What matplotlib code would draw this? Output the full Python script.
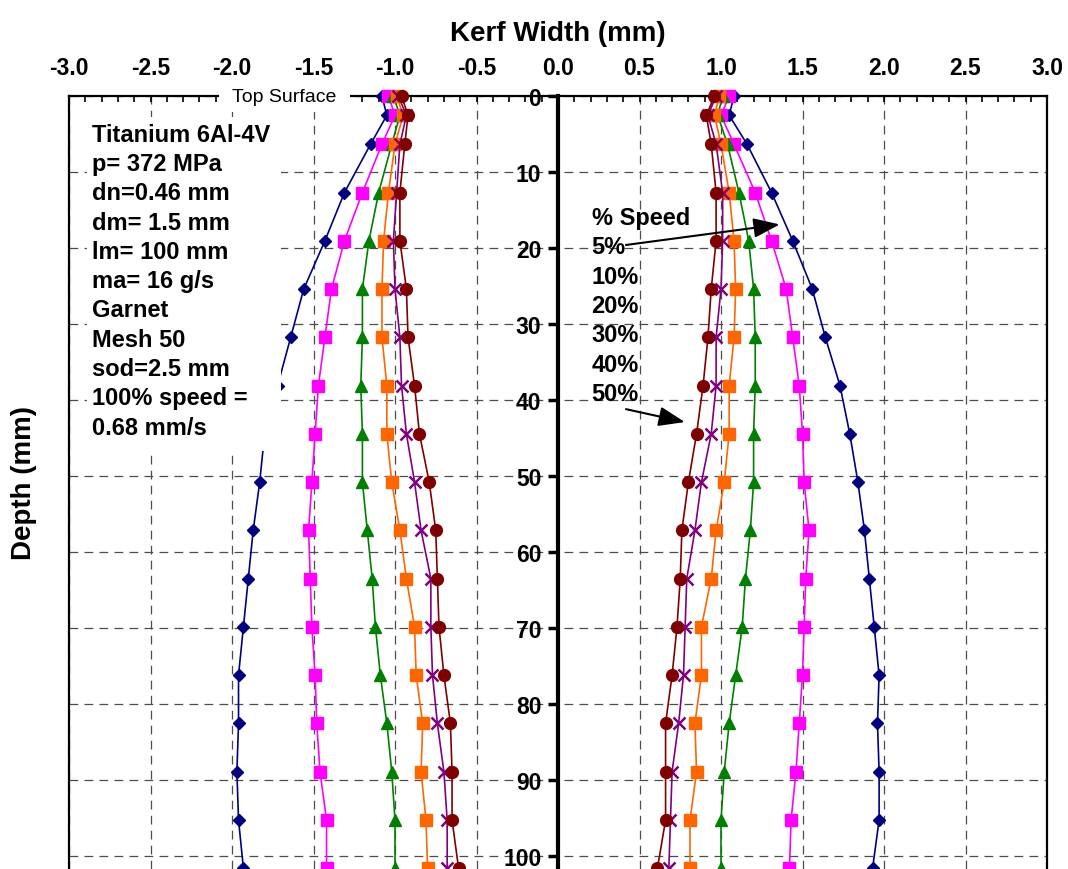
import matplotlib.pyplot as plt
from matplotlib.patches import Rectangle
from matplotlib.ticker import MultipleLocator

plt.rcParams['font.family'] = ['Liberation Sans', 'DejaVu Sans']

# depth below top surface (mm) - measured every 0.25 in
depth = [0, 2.54, 6.35, 12.7, 19.05, 25.4, 31.75, 38.1, 44.45, 50.8,
         57.15, 63.5, 69.85, 76.2, 82.55, 88.9, 95.25, 101.6]

speeds = ['5%', '10%', '20%', '30%', '40%', '50%']

# kerf half-widths, left wall (negative) and right wall
left_5 = [-1.08, -1.05, -1.15, -1.31, -1.43, -1.56, -1.64, -1.72, -1.80, -1.83,
          -1.87, -1.90, -1.93, -1.96, -1.96, -1.97, -1.96, -1.93]
right_5 = [1.08, 1.05, 1.16, 1.31, 1.44, 1.56, 1.64, 1.73, 1.79, 1.84,
           1.88, 1.91, 1.94, 1.97, 1.96, 1.97, 1.97, 1.93]

left_10 = [-1.04, -1.00, -1.08, -1.20, -1.31, -1.39, -1.43, -1.47, -1.49, -1.51,
           -1.53, -1.52, -1.51, -1.49, -1.48, -1.46, -1.42, -1.42]
right_10 = [1.05, 1.00, 1.08, 1.21, 1.31, 1.40, 1.44, 1.48, 1.50, 1.51,
            1.54, 1.52, 1.51, 1.50, 1.48, 1.46, 1.43, 1.42]

left_20 = [-1.01, -0.97, -1.02, -1.10, -1.16, -1.20, -1.20, -1.21, -1.20, -1.20,
           -1.17, -1.14, -1.12, -1.09, -1.05, -1.02, -1.00, -1.00]
right_20 = [1.01, 0.98, 1.04, 1.11, 1.17, 1.20, 1.21, 1.21, 1.20, 1.20,
            1.18, 1.15, 1.13, 1.09, 1.05, 1.02, 1.00, 1.00]

left_30 = [-0.99, -0.95, -1.00, -1.04, -1.07, -1.08, -1.08, -1.05, -1.05, -1.02,
           -0.97, -0.93, -0.88, -0.87, -0.83, -0.84, -0.81, -0.80]
right_30 = [0.99, 0.96, 1.00, 1.05, 1.08, 1.09, 1.08, 1.05, 1.05, 1.02,
            0.97, 0.94, 0.88, 0.88, 0.84, 0.85, 0.81, 0.81]

left_40 = [-0.98, -0.93, -0.97, -0.99, -1.01, -1.00, -0.97, -0.96, -0.93, -0.88,
           -0.84, -0.78, -0.78, -0.77, -0.74, -0.70, -0.68, -0.68]
right_40 = [0.97, 0.92, 0.97, 1.01, 1.01, 1.00, 0.97, 0.97, 0.94, 0.88,
            0.84, 0.79, 0.78, 0.77, 0.74, 0.70, 0.69, 0.68]

left_50 = [-0.96, -0.92, -0.94, -0.97, -0.97, -0.93, -0.92, -0.88, -0.85, -0.79,
           -0.75, -0.74, -0.73, -0.70, -0.66, -0.65, -0.65, -0.61]
right_50 = [0.96, 0.91, 0.94, 0.97, 0.97, 0.94, 0.92, 0.89, 0.85, 0.80,
            0.76, 0.75, 0.73, 0.70, 0.66, 0.66, 0.66, 0.61]

lefts = [left_5, left_10, left_20, left_30, left_40, left_50]
rights = [right_5, right_10, right_20, right_30, right_40, right_50]

colors = ['#000080', '#FF00FF', '#008000', '#FF6600', '#800080', '#800000']
markers = ['D', 's', '^', 's', 'x', 'o']
msizes = [6.5, 8, 8.5, 8, 8, 8.5]

x_ticks = [-3.0, -2.5, -2.0, -1.5, -1.0, -0.5, 0.0, 0.5, 1.0, 1.5, 2.0, 2.5, 3.0]
y_ticks = [0, 10, 20, 30, 40, 50, 60, 70, 80, 90, 100]

params_text = ("Titanium 6Al-4V\np= 372 MPa\ndn=0.46 mm\ndm= 1.5 mm\n"
               "lm= 100 mm\nma= 16 g/s\nGarnet\nMesh 50\nsod=2.5 mm\n"
               "100% speed =\n0.68 mm/s")

fig = plt.figure(figsize=(10.68, 8.70), dpi=100)
ax = fig.add_axes([69 / 1068, 0, 978 / 1068, 773 / 870])

for lx, rx, c, m, ms in zip(lefts, rights, colors, markers, msizes):
    for xs in (lx, rx):
        ax.plot(xs, depth, color=c, marker=m, markersize=ms, lw=1.2,
                mew=1.8 if m == 'x' else 1.0, clip_on=False, zorder=3)

ax.set_xlim(-3, 3)
ax.set_ylim(101.7, 0)

# x axis on top, depth axis running down the centre line
ax.xaxis.tick_top()
ax.xaxis.set_label_position('top')
ax.set_xticks(x_ticks)
ax.set_xticklabels([f'{v:.1f}' for v in x_ticks])
ax.xaxis.set_minor_locator(MultipleLocator(0.1))
ax.set_yticks(y_ticks)
ax.set_yticklabels([str(v) for v in y_ticks])

ax.spines['left'].set_position(('data', 0))
ax.spines['left'].set_linewidth(3)
ax.spines['top'].set_linewidth(1.6)
ax.spines['right'].set_linewidth(1.6)
ax.spines['bottom'].set_visible(False)
ax.axvline(-3, color='k', lw=1.6, clip_on=False, zorder=2.5)

ax.tick_params(axis='x', which='both', direction='in', length=4, width=1.2,
               pad=12, labelsize=16.5)
ax.tick_params(axis='y', direction='out', length=7, width=2.5, pad=5,
               labelsize=16.5)
ax.tick_params(axis='y', right=False)
for lab in ax.get_xticklabels() + ax.get_yticklabels():
    lab.set_fontweight('bold')

ax.set_axisbelow(True)
ax.grid(True, which='major', color='0.3', lw=0.9, linestyle=(0, (7, 5)))

ax.set_xlabel('Kerf Width (mm)', fontsize=20, fontweight='bold', labelpad=12)
ax.set_ylabel('Depth (mm)', fontsize=20, fontweight='bold')
ax.yaxis.set_label_coords(-0.033, 0.5)

ax.text(-1.678, 0, ' Top Surface ', fontsize=14, ha='center', va='center',
        zorder=6, clip_on=False,
        bbox=dict(boxstyle='square,pad=0.4', facecolor='white', edgecolor='none'))

# white panel holding the cutting parameters
ax.add_patch(Rectangle((-2.89, 2.75), 1.19, 43.95, facecolor='white',
                       edgecolor='none', zorder=4))
ax.text(-2.86, 24.3, params_text, fontsize=17, fontweight='bold',
        ha='left', va='center', linespacing=1.35, zorder=5)

ax.text(0.206, 27.55, '% Speed\n' + '\n'.join(speeds), fontsize=17,
        fontweight='bold', ha='left', va='center', linespacing=1.35, zorder=5)
arrow = dict(arrowstyle='-|>,head_length=0.8,head_width=0.3', color='k',
             lw=1.5, mutation_scale=20, shrinkA=0, shrinkB=0)
ax.annotate('', xy=(1.36, 16.9), xytext=(0.417, 19.6), arrowprops=arrow,
            zorder=5)
ax.annotate('', xy=(0.778, 42.9), xytext=(0.417, 41.2), arrowprops=arrow,
            zorder=5)

fig.savefig('out.png', dpi=100)
